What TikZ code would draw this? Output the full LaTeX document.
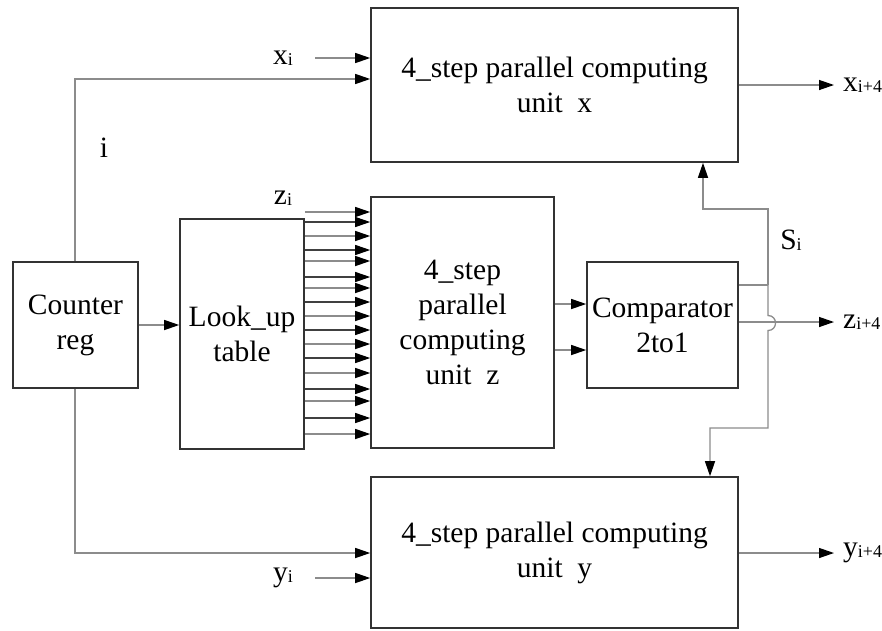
\documentclass[tikz,border=0pt]{standalone}
\usepackage{fontspec}
\setmainfont{Liberation Serif}
\usetikzlibrary{arrows.meta}
\newcommand{\lowsub}[1]{\raisebox{-1pt}{\fontsize{18}{18}\selectfont #1}}
\begin{document}
\begin{tikzpicture}[x=1pt,y=-1pt,
  box/.style={draw=black!80, line width=1.6pt, inner sep=0pt, align=center,
    font=\fontsize{29.5}{35}\selectfont},
  conn/.style={draw=black!45, line width=1.3pt},
  dconn/.style={draw=black!75, line width=1.1pt},
  arr/.style={-{Triangle[length=15pt,width=10pt,fill=black,color=black]}},
  lbl/.style={inner sep=0pt, font=\fontsize{29.5}{30}\selectfont}]
\useasboundingbox (0,0) rectangle (882,630);
% boxes
\node[box, minimum width=367pt, minimum height=154pt] (ux) at (554.5,85)
  {4\_step parallel computing\\unit\ \ x};
\node[box, minimum width=183pt, minimum height=251pt] (uz) at (462.5,322.5)
  {4\_step\\parallel\\computing\\unit\ \ z};
\node[box, minimum width=124pt, minimum height=230pt] (lut) at (242,334)
  {Look\_up\\table};
\node[box, minimum width=125pt, minimum height=126pt] (cnt) at (75.5,325)
  {Counter\\reg};
\node[box, minimum width=151pt, minimum height=126pt] (cmp) at (662.5,325)
  {Comparator\\2to1};
\node[box, minimum width=367pt, minimum height=151pt] (uy) at (554.5,552.5)
  {4\_step parallel computing\\unit\ \ y};
% labels
\node[lbl] (xi) at (283,58) {x\lowsub{i}};
\node[lbl] (yi) at (283,578) {y\lowsub{i}};
\node[lbl] (zi) at (283,198) {z\lowsub{i}};
\node[lbl] (il) at (104,148) {i};
\node[lbl] (si) at (791,240) {S\lowsub{i}};
\node[lbl, anchor=west] (xo) at (843,85) {x\lowsub{i+4}};
\node[lbl, anchor=west] (zo) at (843,322) {z\lowsub{i+4}};
\node[lbl, anchor=west] (yo) at (843,553) {y\lowsub{i+4}};
% junction coordinates
\coordinate (sj) at (768,285);
% counter connections
\draw[conn,arr] (cnt.north -| 75,0) |- (ux.west |- 0,79);
\draw[conn,arr] (cnt.south -| 75,0) |- (uy.west |- 0,553);
\draw[conn,arr] (cnt.east) -- (lut.west |- cnt.east);
% input labels
\draw[conn,arr] (xi.east) ++(22,0) -- (ux.west |- xi);
\draw[conn,arr] (yi.east) ++(22,0) -- (uy.west |- yi);
% bus lines
\foreach \yy/\st in {212/conn,222/dconn,236/conn,250/dconn,261/conn,277/dconn,288/conn,302/dconn,316/conn,330/dconn,344/conn,358/dconn,373/conn,389/dconn,401/conn,418/dconn,434/conn}
  \draw[\st,arr] (lut.east |- 0,\yy) -- (uz.west |- 0,\yy);
% unit z to comparator
\draw[conn,arr] (uz.east |- 0,304) -- (cmp.west |- 0,304);
\draw[conn,arr] (uz.east |- 0,350) -- (cmp.west |- 0,350);
% comparator outputs
\draw[conn] (cmp.east |- sj) -- (sj);
\draw[conn,arr] (sj) -- (768,209) -| (ux.south -| 703,0);
\draw[conn,arr] (sj) -- (768,315.5) .. controls (778,315.5) and (778,330.5) .. (768,330.5)
  -- (768,428) -| (uy.north -| 710,0);
\draw[conn,arr,shorten >=9pt] (cmp.east |- zo) -- (zo.west);
% outputs
\draw[conn,arr,shorten >=9pt] (ux.east |- xo) -- (xo.west);
\draw[conn,arr,shorten >=9pt] (uy.east |- yo) -- (yo.west);
\end{tikzpicture}
\end{document}
